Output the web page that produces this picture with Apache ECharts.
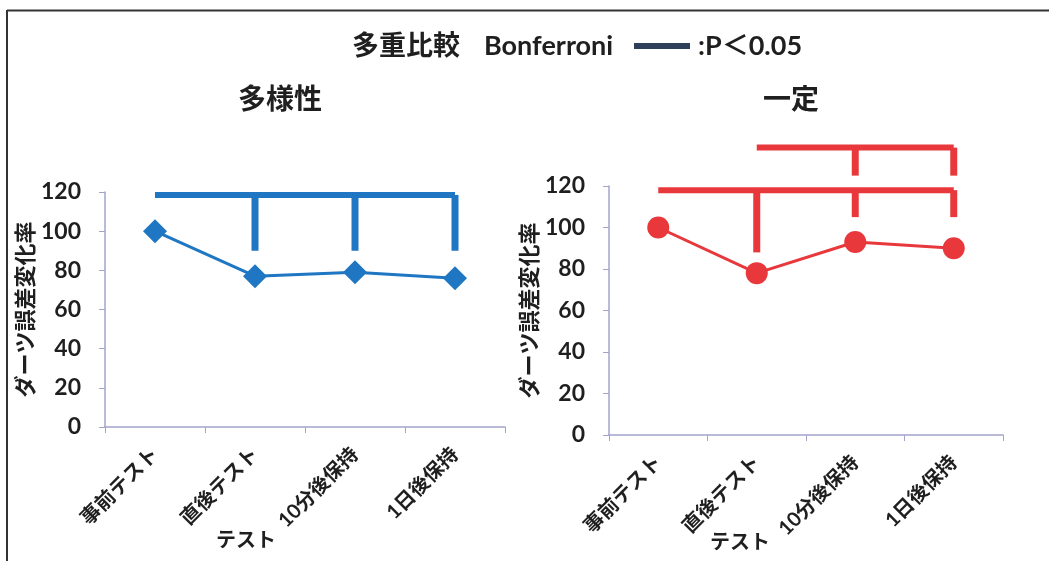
<!DOCTYPE html>
<html>
<head>
<meta charset="utf-8">
<script src="https://cdn.jsdelivr.net/npm/echarts@6/dist/echarts.min.js"></script>
<style>
  html, body { margin: 0; padding: 0; background: #fff; }
  #chart { width: 1049px; height: 561px; }
</style>
</head>
<body>
<div id="chart"></div>
<script>
// Test phases (x categories)
const categories = ['事前テスト', '直後テスト', '10分後保持', '1日後保持'];
// Dart error change rate (%) per condition
const diversityValues = [100, 77, 79, 76];
const constantValues = [100, 78, 93, 90];
// Y axis ticks
const yMin = 0, yMax = 120, yStep = 20;

// Significance brackets (Bonferroni, p < 0.05): segments as [categoryIndex, value] pairs
const diversityBrackets = [
  [[0, 118.5], [3, 118.5]],
  [[1, 118.5], [1, 90]],
  [[2, 118.5], [2, 90]],
  [[3, 118.5], [3, 90]]
];
const constantBrackets = [
  [[0, 118], [3, 118]],
  [[1, 118], [1, 88]],
  [[2, 118], [2, 105]],
  [[3, 118], [3, 105]],
  [[1, 138.5], [3, 138.5]],
  [[2, 138.5], [2, 125]],
  [[3, 138.5], [3, 125]]
];

const FONT = "Lato, 'Noto Sans CJK JP', sans-serif";
const BLUE = '#1f76c2';
const RED = '#e8383c';
const AXIS = '#a2a4cc';
const INK = '#1f1f1f';

function xAxisFor(gridIndex) {
  return {
    type: 'category', gridIndex, data: categories, boundaryGap: true,
    axisLine: { lineStyle: { color: AXIS, width: 1.5 } },
    axisTick: { show: true, length: 6, lineStyle: { color: AXIS } },
    axisLabel: { rotate: 45, margin: 24, fontSize: 20, fontWeight: 'bold', color: INK, fontFamily: FONT }
  };
}
function yAxisFor(gridIndex) {
  return {
    type: 'value', gridIndex, min: yMin, max: yMax, interval: yStep,
    name: 'ダーツ誤差変化率', nameLocation: 'middle', nameRotate: 90, nameGap: 66,
    nameTextStyle: { fontSize: 22, fontWeight: 'bold', color: INK, fontFamily: FONT },
    axisLine: { show: true, lineStyle: { color: AXIS, width: 1.5 } },
    axisTick: { show: true, length: 6, lineStyle: { color: AXIS } },
    splitLine: { show: false },
    axisLabel: { fontSize: 23, fontWeight: 'bold', color: INK, fontFamily: FONT, margin: 24 }
  };
}
function bracketSeries(segments, idx, color) {
  return segments.map(seg => ({
    type: 'line', xAxisIndex: idx, yAxisIndex: idx, data: seg,
    symbol: 'none', clip: false, silent: true, z: 1,
    lineStyle: { color, width: seg[0][0] === seg[1][0] ? 7 : 6, cap: 'butt' }
  }));
}

const chart = echarts.init(document.getElementById('chart'), null, { renderer: 'canvas' });
chart.setOption({
  animation: false,
  backgroundColor: '#fff',
  textStyle: { fontFamily: FONT },
  grid: [
    { left: 105, right: 544, top: 192, bottom: 134 },
    { left: 609, right: 46, top: 186, bottom: 126 }
  ],
  xAxis: [xAxisFor(0), xAxisFor(1)],
  yAxis: [yAxisFor(0), yAxisFor(1)],
  graphic: [
    // outer frame
    { type: 'line', shape: { x1: 7, y1: 10.5, x2: 1049, y2: 10.5 }, style: { stroke: '#333', lineWidth: 2 } },
    { type: 'line', shape: { x1: 7, y1: 10, x2: 7, y2: 561 }, style: { stroke: '#333', lineWidth: 2 } },
    // heading with key
    { type: 'text', x: 352, y: 46, style: { text: '多重比較', font: "bold 27px " + FONT, fill: INK, verticalAlign: 'middle' } },
    { type: 'text', x: 484, y: 46, style: { text: 'Bonferroni', font: "bold 27px " + FONT, fill: INK, verticalAlign: 'middle' } },
    { type: 'rect', shape: { x: 634, y: 43, width: 56, height: 6 }, style: { fill: '#2e3f5c' } },
    { type: 'text', x: 698, y: 46, style: { text: ':P＜0.05', font: "bold 27px " + FONT, fill: INK, verticalAlign: 'middle' } },
    // panel titles
    { type: 'text', x: 280, y: 100, style: { text: '多様性', font: "bold 28px " + FONT, fill: INK, align: 'center', verticalAlign: 'middle' } },
    { type: 'text', x: 791, y: 100, style: { text: '一定', font: "bold 28px " + FONT, fill: INK, align: 'center', verticalAlign: 'middle' } },
    // wrapped part of the third category label
    { type: 'text', x: 246, y: 541, style: { text: 'テスト', font: "bold 20px " + FONT, fill: INK, align: 'center', verticalAlign: 'middle' } },
    { type: 'text', x: 740, y: 543, style: { text: 'テスト', font: "bold 20px " + FONT, fill: INK, align: 'center', verticalAlign: 'middle' } }
  ],
  series: [
    ...bracketSeries(diversityBrackets, 0, BLUE),
    ...bracketSeries(constantBrackets, 1, RED),
    {
      type: 'line', xAxisIndex: 0, yAxisIndex: 0, data: diversityValues,
      symbol: 'diamond', symbolSize: 24, z: 3,
      itemStyle: { color: BLUE }, lineStyle: { color: BLUE, width: 3 }
    },
    {
      type: 'line', xAxisIndex: 1, yAxisIndex: 1, data: constantValues,
      symbol: 'circle', symbolSize: 22, z: 3,
      itemStyle: { color: RED }, lineStyle: { color: RED, width: 3 }
    }
  ]
});
</script>
</body>
</html>
